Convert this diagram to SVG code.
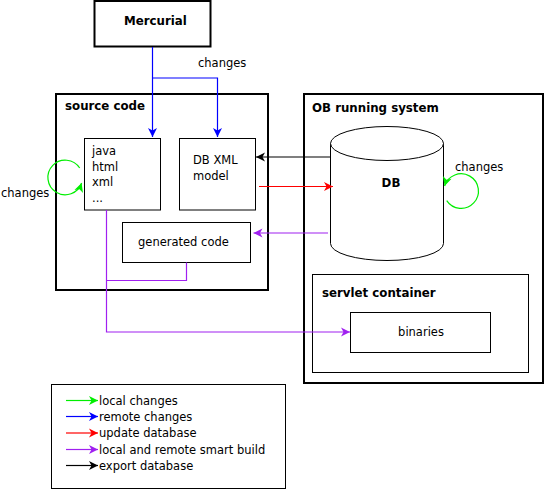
<svg xmlns="http://www.w3.org/2000/svg" width="547" height="489" viewBox="0 0 547 489">
<style>
text{font-family:"DejaVu Sans","Liberation Sans",sans-serif;font-size:11.5px;fill:#000}
.b{font-weight:bold;font-size:11.8px}
.thick{fill:#fff;stroke:#000;stroke-width:2}
.thin{fill:#fff;stroke:#000;stroke-width:1}
.c{fill:none;stroke-width:1.2}
</style>
<defs>
<marker id="aK" markerUnits="userSpaceOnUse" markerWidth="10" markerHeight="9" refX="9" refY="4.5" orient="auto" overflow="visible"><path d="M0,0 L9,4.5 L0,9 L2.5,4.5 z" fill="#000"/></marker>
<marker id="aR" markerUnits="userSpaceOnUse" markerWidth="10" markerHeight="9" refX="9" refY="4.5" orient="auto" overflow="visible"><path d="M0,0 L9,4.5 L0,9 L2.5,4.5 z" fill="#ff0000"/></marker>
<marker id="aB" markerUnits="userSpaceOnUse" markerWidth="10" markerHeight="9" refX="9" refY="4.5" orient="auto" overflow="visible"><path d="M0,0 L9,4.5 L0,9 L2.5,4.5 z" fill="#0000ff"/></marker>
<marker id="aP" markerUnits="userSpaceOnUse" markerWidth="10" markerHeight="9" refX="9" refY="4.5" orient="auto" overflow="visible"><path d="M0,0 L9,4.5 L0,9 L2.5,4.5 z" fill="#a020f0"/></marker>
<marker id="aG" markerUnits="userSpaceOnUse" markerWidth="10" markerHeight="9" refX="9" refY="4.5" orient="auto" overflow="visible"><path d="M0,0 L9,4.5 L0,9 L2.5,4.5 z" fill="#00ee00"/></marker>
</defs>

<g id="mercurial">
<rect class="thick" x="94.5" y="1" width="116" height="45.5"/>
<text class="b" x="124" y="25">Mercurial</text>
</g>

<g id="source-code">
<rect class="thick" x="56" y="94" width="212" height="196"/>
<text class="b" x="65" y="110">source code</text>
</g>

<g id="java-files">
<rect class="thin" x="84.5" y="138.5" width="76" height="71.5"/>
<text x="92" y="155">java</text>
<text x="92" y="170.5">html</text>
<text x="92" y="186">xml</text>
<text x="92" y="201.5">...</text>
</g>

<g id="db-xml-model">
<rect class="thin" x="179.5" y="138.5" width="76" height="71.5"/>
<text x="193" y="164">DB XML</text>
<text x="193" y="180">model</text>
</g>

<g id="generated-code">
<rect class="thin" x="122.5" y="222.5" width="128" height="40"/>
<text x="138" y="245.5">generated code</text>
</g>

<g id="ob-running-system">
<rect class="thick" x="304" y="94" width="239" height="289"/>
<text class="b" x="312" y="112">OB running system</text>
</g>

<g id="db">
<path class="thin" d="M330.5,143.5 V243.5 A56.5,17 0 0 0 443.5,243.5 V143.5"/>
<ellipse class="thin" cx="387" cy="143.5" rx="56.5" ry="17"/>
<text class="b" x="391" y="187" text-anchor="middle">DB</text>
</g>

<g id="servlet-container">
<rect class="thin" x="312.5" y="274.5" width="216" height="98"/>
<text class="b" x="322" y="297">servlet container</text>
</g>

<g id="binaries">
<rect class="thin" x="350.5" y="312.5" width="140" height="40"/>
<text x="421" y="335.5" text-anchor="middle">binaries</text>
</g>

<g id="connectors">
<path class="c" stroke="#0000ff" d="M152.5,47 V137" marker-end="url(#aB)"/>
<path class="c" stroke="#0000ff" d="M152.5,78 H217.5 V137" marker-end="url(#aB)"/>
<text x="198" y="67">changes</text>
<path class="c" stroke="#000" d="M330,157 H256" marker-end="url(#aK)"/>
<path class="c" stroke="#ff0000" d="M259,186.5 H333" marker-end="url(#aR)"/>
<path class="c" stroke="#a020f0" d="M328,233 H253.5" marker-end="url(#aP)"/>
<path class="c" stroke="#a020f0" d="M106.5,210 V332 H350" marker-end="url(#aP)"/>
<path class="c" stroke="#a020f0" d="M186.5,262.5 V280.5 H106.5"/>
<path class="c" stroke="#00ee00" d="M79.7,168 A17.3,17.3 0 1 0 81.6,183" marker-end="url(#aG)"/>
<text x="1" y="196.5">changes</text>
<path class="c" stroke="#00ee00" d="M446.7,200.6 A17.3,17.3 0 1 0 444.6,186" marker-end="url(#aG)"/>
<text x="455" y="171">changes</text>
</g>

<g id="legend">
<rect class="thin" x="51.5" y="384.5" width="234" height="104"/>
<path class="c" stroke="#00ee00" d="M66,400.5 H98" marker-end="url(#aG)"/>
<text x="99" y="404.7">local changes</text>
<path class="c" stroke="#0000ff" d="M66,416.5 H98" marker-end="url(#aB)"/>
<text x="99" y="420.7">remote changes</text>
<path class="c" stroke="#ff0000" d="M66,433 H98" marker-end="url(#aR)"/>
<text x="99" y="437.3">update database</text>
<path class="c" stroke="#a020f0" d="M66,449.5 H98" marker-end="url(#aP)"/>
<text x="99" y="454">local and remote smart build</text>
<path class="c" stroke="#000" d="M66,465.5 H98" marker-end="url(#aK)"/>
<text x="99" y="470">export database</text>
</g>
</svg>
